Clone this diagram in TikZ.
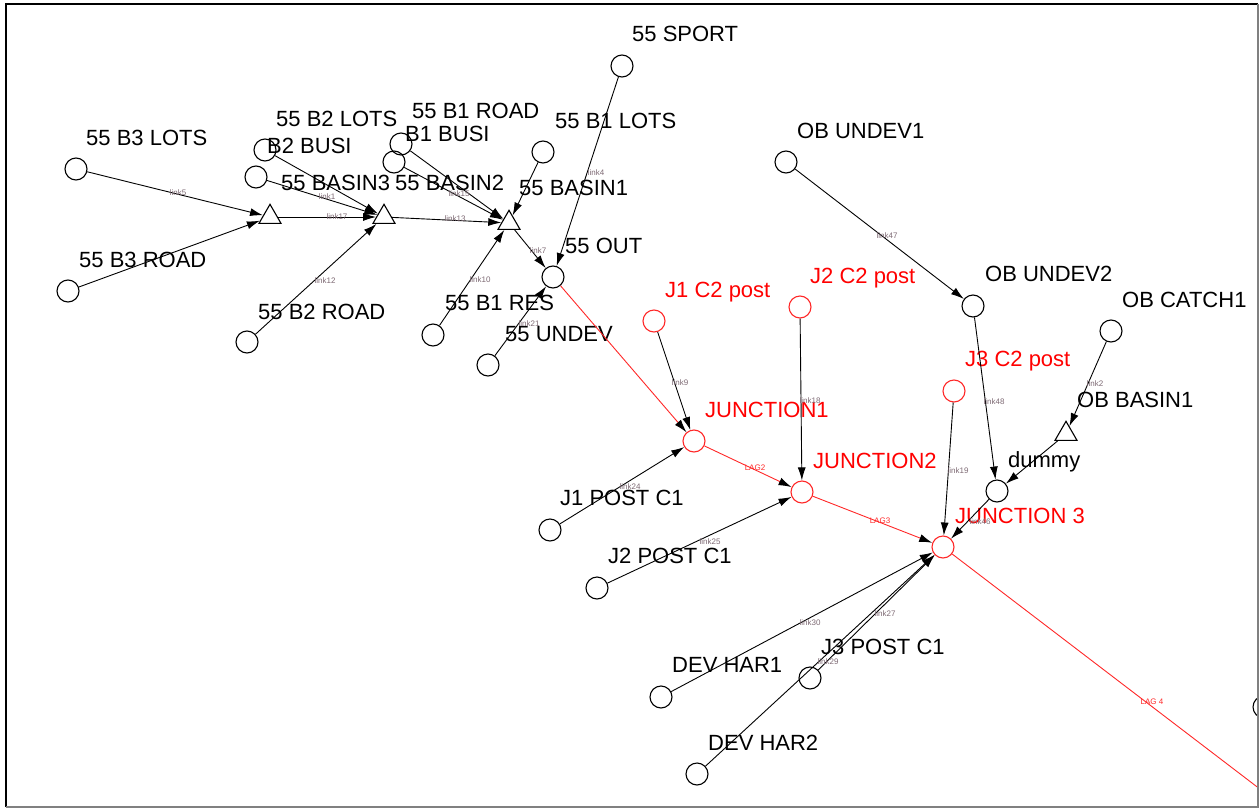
\documentclass[tikz,border=0pt]{standalone}
\usepackage{fontspec}
\setmainfont{Liberation Sans}
\usetikzlibrary{arrows.meta,shapes.geometric}
\definecolor{linkc}{RGB}{125,105,115}
\definecolor{lagred}{RGB}{255,40,40}
\begin{document}
\begin{tikzpicture}[x=1pt,y=-1pt,
 nd/.style={circle,draw=black,line width=1.1pt,minimum size=22pt,inner sep=0pt},
 rnd/.style={nd,draw=lagred},
 tri/.style={regular polygon,regular polygon sides=3,draw=black,line width=1.1pt,minimum size=25.4pt,inner sep=0pt},
 lbl/.style={anchor=base west,inner sep=0pt,font=\fontsize{22}{24}\selectfont},
 rlbl/.style={lbl,text=red},
 lklab/.style={font=\fontsize{8}{9}\selectfont,text=linkc,inner sep=0pt},
 laglab/.style={font=\fontsize{8}{9}\selectfont,text=lagred,inner sep=0pt},
 lnk/.style={draw=black,line width=0.9pt,-{Latex[length=13pt,width=8pt]}},
 rlnk/.style={draw=lagred,line width=0.9pt,-{Latex[length=13pt,width=8pt,black]}},
]
\useasboundingbox (0,0) rectangle (1259,809);
\begin{scope}
\clip (6,4) rectangle (1258,807);
% nodes
\node[nd] (b3lots) at (76,169) {};
\node[nd] (b3road) at (68,291) {};
\node[tri] (basin3) at (270,217) {};
\node[nd] (b2lots) at (265,150) {};
\node[nd] (b2busi) at (256,177) {};
\node[tri] (basin2) at (384,217) {};
\node[nd] (b1road) at (401,144) {};
\node[nd] (b1busi) at (394,162) {};
\node[nd] (b1lots) at (543,152) {};
\node[tri] (basin1) at (509,223) {};
\node[nd] (sport) at (622,66) {};
\node[nd] (out) at (553,277) {};
\node[nd] (b2road) at (247,342) {};
\node[nd] (b1res) at (433,335) {};
\node[nd] (undev) at (488,365) {};
\node[nd] (obu1) at (786,162) {};
\node[nd] (obu2) at (973,306) {};
\node[nd] (obc1) at (1111,331) {};
\node[tri] (obb1) at (1066,434) {};
\node[nd] (dummy) at (997,491) {};
\node[rnd] (j1c2) at (654,321) {};
\node[rnd] (j2c2) at (800,307) {};
\node[rnd] (j3c2) at (954,391) {};
\node[rnd] (jn1) at (694,441) {};
\node[rnd] (jn2) at (802,492) {};
\node[rnd] (jn3) at (943,547) {};
\node[nd] (j1p) at (550,530) {};
\node[nd] (j2p) at (597,588) {};
\node[nd] (dh1) at (661,697) {};
\node[nd] (dh2) at (697,774) {};
\node[nd] (j3p) at (810,678) {};
\node[nd] (rim) at (1264,707) {};
\coordinate (lag4end) at (1290,812);
% labels
\node[lbl] (t1) at (86,145) {55 B3 LOTS};
\node[lbl] (t2) at (79,267) {55 B3 ROAD};
\node[lbl] (t3) at (281,190) {55 BASIN3};
\node[lbl] (t4) at (276,126) {55 B2 LOTS};
\node[lbl] (t5) at (267,153) {B2 BUSI};
\node[lbl] (t6) at (395,190) {55 BASIN2};
\node[lbl] (t7) at (412,118) {55 B1 ROAD};
\node[lbl] (t8) at (405,141) {B1 BUSI};
\node[lbl] (t9) at (555,128) {55 B1 LOTS};
\node[lbl] (t10) at (519,195) {55 BASIN1};
\node[lbl] (t11) at (632,41) {55 SPORT};
\node[lbl] (t12) at (565,253) {55 OUT};
\node[lbl] (t13) at (258,319) {55 B2 ROAD};
\node[lbl] (t14) at (445,310) {55 B1 RES};
\node[lbl] (t15) at (505,341) {55 UNDEV};
\node[lbl] (t16) at (797,138) {OB UNDEV1};
\node[lbl] (t17) at (985,281) {OB UNDEV2};
\node[lbl] (t18) at (1122,307) {OB CATCH1};
\node[lbl] (t19) at (1077,407) {OB BASIN1};
\node[lbl] (t20) at (1008,467) {dummy};
\node[rlbl] (t21) at (665,297) {J1 C2 post};
\node[rlbl] (t22) at (810,283) {J2 C2 post};
\node[rlbl] (t23) at (965,366) {J3 C2 post};
\node[rlbl] (t24) at (705,417) {JUNCTION1};
\node[rlbl] (t25) at (813,468) {JUNCTION2};
\node[rlbl] (t26) at (955,523) {JUNCTION 3};
\node[lbl] (t27) at (560,505) {J1 POST C1};
\node[lbl] (t28) at (608,563) {J2 POST C1};
\node[lbl] (t29) at (672,672) {DEV HAR1};
\node[lbl] (t30) at (708,750) {DEV HAR2};
\node[lbl] (t31) at (821,654) {J3 POST C1};
% connectors
\draw[lnk] (b3lots) -- (basin3);
\draw[lnk] (b3road) -- (basin3);
\draw[lnk] (basin3) -- (basin2);
\draw[lnk] (b2busi) -- (basin2);
\draw[lnk] (b2lots) -- (basin2);
\draw[lnk] (b2road) -- (basin2);
\draw[lnk] (basin2) -- (basin1);
\draw[lnk] (b1busi) -- (basin1);
\draw[lnk] (b1road) -- (basin1);
\draw[lnk] (b1lots) -- (basin1);
\draw[lnk] (b1res) -- (basin1);
\draw[lnk] (basin1) -- (out);
\draw[lnk] (sport) -- (out);
\draw[lnk] (undev) -- (out);
\draw[rlnk] (out) -- (jn1);
\draw[lnk] (j1c2) -- (jn1);
\draw[lnk] (j1p) -- (jn1);
\draw[rlnk] (jn1) -- (jn2);
\draw[lnk] (j2c2) -- (jn2);
\draw[lnk] (j2p) -- (jn2);
\draw[rlnk] (jn2) -- (jn3);
\draw[lnk] (j3c2) -- (jn3);
\draw[lnk] (obu1) -- (obu2);
\draw[lnk] (obu2) -- (dummy);
\draw[lnk] (obc1) -- (obb1);
\draw[lnk] (obb1) -- (dummy);
\draw[lnk] (dummy) -- (jn3);
\draw[lnk] (dh1) -- (jn3);
\draw[lnk] (j3p) -- (jn3);
\draw[lnk] (dh2) -- (jn3);
\draw[draw=lagred,line width=0.9pt] (jn3) -- (lag4end);
% connector labels
\node[lklab] (k5) at (178,193) {link5};
\node[lklab] (k17) at (337,217) {link17};
\node[lklab] (k1) at (327,197) {link1};
\node[lklab] (k13) at (455,219) {link13};
\node[lklab] (k15) at (459,194) {link15};
\node[lklab] (k12) at (325,281) {link12};
\node[lklab] (k10) at (480,280) {link10};
\node[lklab] (k7) at (538,251) {link7};
\node[lklab] (k21) at (529,324) {link21};
\node[lklab] (k4) at (596,173) {link4};
\node[lklab] (k47) at (887,236) {link47};
\node[lklab] (k9) at (680,383) {link9};
\node[lklab] (k18) at (810,401) {link18};
\node[lklab] (k24) at (630,487) {link24};
\node[laglab] (kl2) at (755,468) {LAG2};
\node[lklab] (k25) at (710,542) {link25};
\node[laglab] (kl3) at (880,521) {LAG3};
\node[lklab] (k19) at (958,471) {link19};
\node[lklab] (k48) at (994,402) {link48};
\node[lklab] (k2) at (1095,384) {link2};
\node[lklab] (k46) at (980,522) {link46};
\node[lklab] (k30) at (810,623) {link30};
\node[lklab] (k27) at (885,614) {link27};
\node[lklab] (k29) at (828,662) {link29};
\node[laglab] (kl4) at (1152,702) {LAG 4};
\end{scope}
% frame
\draw[line width=2pt] (6,807) -- (6,4) -- (1258,4);
\draw[gray,line width=1.2pt] (1258,4) -- (1258,807) -- (6,807);
\end{tikzpicture}
\end{document}
